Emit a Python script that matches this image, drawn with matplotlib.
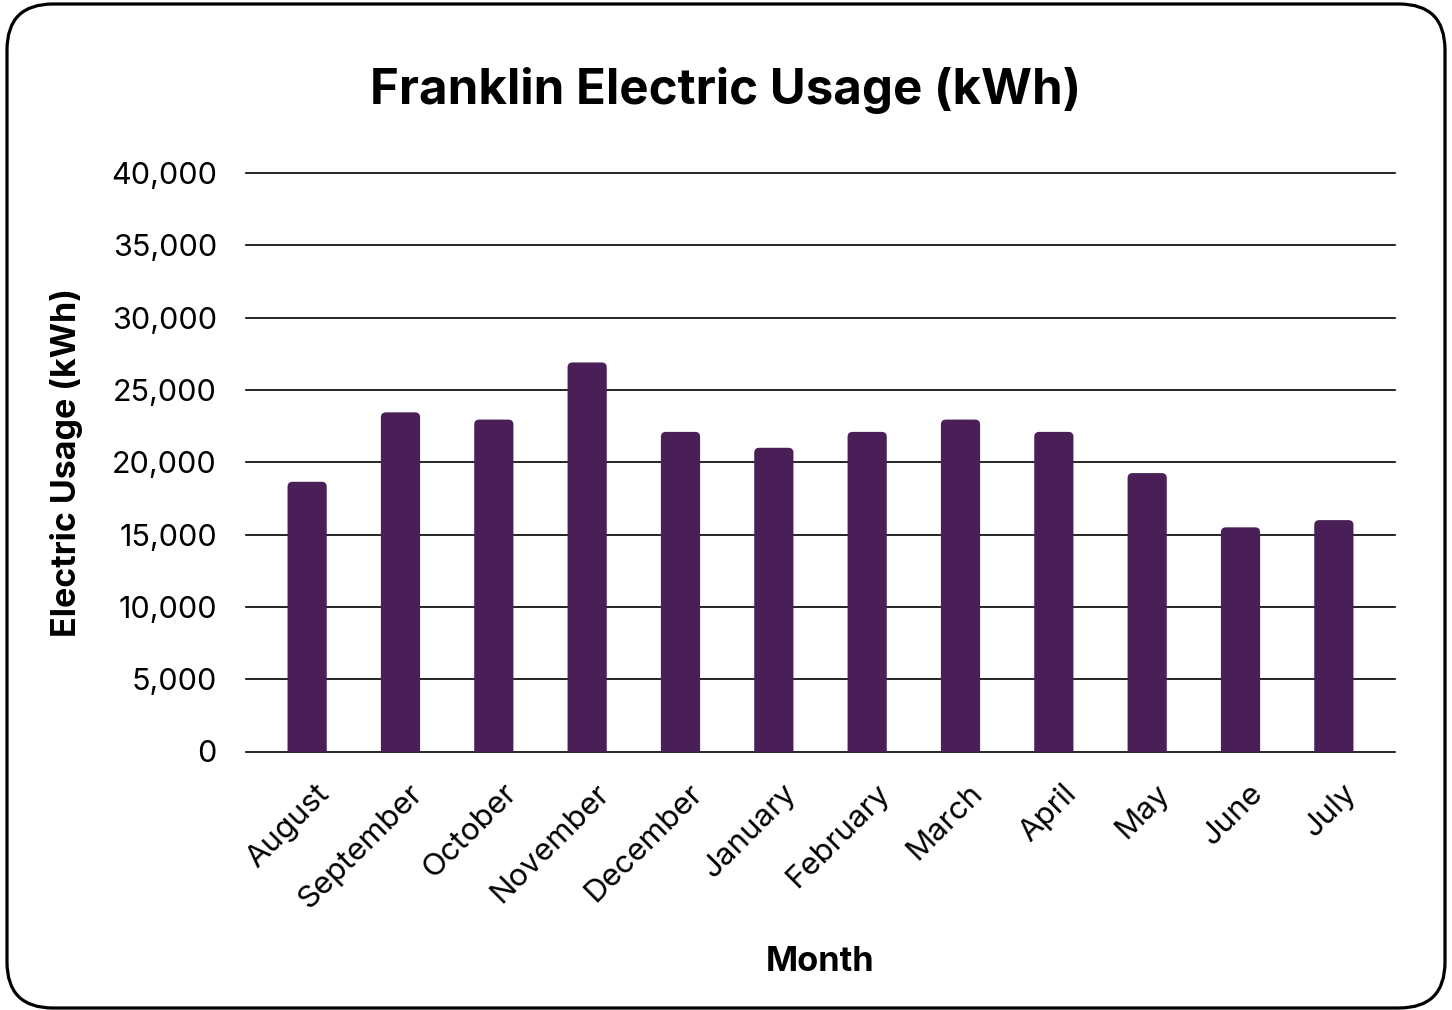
import matplotlib
matplotlib.use("Agg")
import matplotlib.pyplot as plt
from matplotlib.patches import FancyBboxPatch
from matplotlib.transforms import IdentityTransform, ScaledTranslation
from matplotlib.ticker import FuncFormatter

months = ["August", "September", "October", "November", "December", "January",
          "February", "March", "April", "May", "June", "July"]
usage_kwh = [18650, 23450, 22950, 26900, 22100, 21000,
             22100, 22950, 22100, 19250, 15500, 16000]
y_ticks = [0, 5000, 10000, 15000, 20000, 25000, 30000, 35000, 40000]

BAR_COLOR = "#4A1F57"
FONT = "Inter"

plt.rcParams["font.family"] = [FONT, "DejaVu Sans"]

W, H, DPI = 1452, 1010, 100
fig = plt.figure(figsize=(W / DPI, H / DPI), dpi=DPI)
fig.patch.set_facecolor("white")

# rounded frame around the whole chart (pixel coordinates)
frame = FancyBboxPatch((7, 2), 1438, 1004,
                       boxstyle="round,pad=0,rounding_size=46",
                       transform=IdentityTransform(), facecolor="none",
                       edgecolor="black", linewidth=2.3, zorder=0)
fig.patches.append(frame)

left, right = 246 / W, 1395 / W
bottom, top = 1 - 751.5 / H, 1 - 173 / H
ax = fig.add_axes([left, bottom, right - left, top - bottom])
ax.set_facecolor("none")

x = list(range(len(months)))
bar_w = 0.42
bars = ax.bar(x, usage_kwh, width=bar_w, color=BAR_COLOR, zorder=3)

ax.set_xlim(-0.655, len(months) - 1 + 0.655)
ax.set_ylim(0, 40000)

# round the top corners of each bar
fig.canvas.draw()
px_x = (ax.get_xlim()[1] - ax.get_xlim()[0]) / ax.bbox.width
px_y = (ax.get_ylim()[1] - ax.get_ylim()[0]) / ax.bbox.height
r_px = 5
for rect in bars:
    rect.set_visible(False)
    x0 = rect.get_x()
    w = rect.get_width()
    h = rect.get_height()
    ext = r_px * px_y
    p = FancyBboxPatch((x0, -ext), w, h + ext,
                       boxstyle=f"round,pad=0,rounding_size={r_px * px_x}",
                       mutation_aspect=px_y / px_x,
                       facecolor=BAR_COLOR, edgecolor="none", zorder=3)
    ax.add_patch(p)

ax.set_yticks(y_ticks)
ax.yaxis.set_major_formatter(FuncFormatter(lambda v, _: f"{int(v):,}"))
ax.grid(axis="y", color="black", linewidth=1.2, zorder=1)
for gl in ax.yaxis.get_gridlines():
    gl.set_clip_on(False)
ax.set_axisbelow(True)
for s in ax.spines.values():
    s.set_visible(False)

ax.tick_params(axis="y", length=0, pad=21, labelsize=22)
ax.tick_params(axis="x", length=0, pad=0)
ax.set_xticks(x)
ax.set_xticklabels(months, fontsize=22.5, rotation=45, ha="right", va="center",
                   rotation_mode="anchor")
offset = ScaledTranslation(0.18, -0.375, fig.dpi_scale_trans)
for lbl in ax.get_xticklabels():
    lbl.set_transform(lbl.get_transform() + offset)

ax.set_xlabel("Month", fontsize=24.8, fontweight="bold", labelpad=0)
ax.xaxis.set_label_coords(0.5, -0.336)
ax.set_ylabel("Electric Usage (kWh)", fontsize=24.5, fontweight="bold")
ax.yaxis.set_label_coords(-0.142, 0.5)

fig.text(0.5, 1 - 90 / H, "Franklin Electric Usage (kWh)", ha="center",
         va="center", fontsize=35.4, fontweight="bold")

fig.savefig("out.png", dpi=DPI, facecolor="white")
